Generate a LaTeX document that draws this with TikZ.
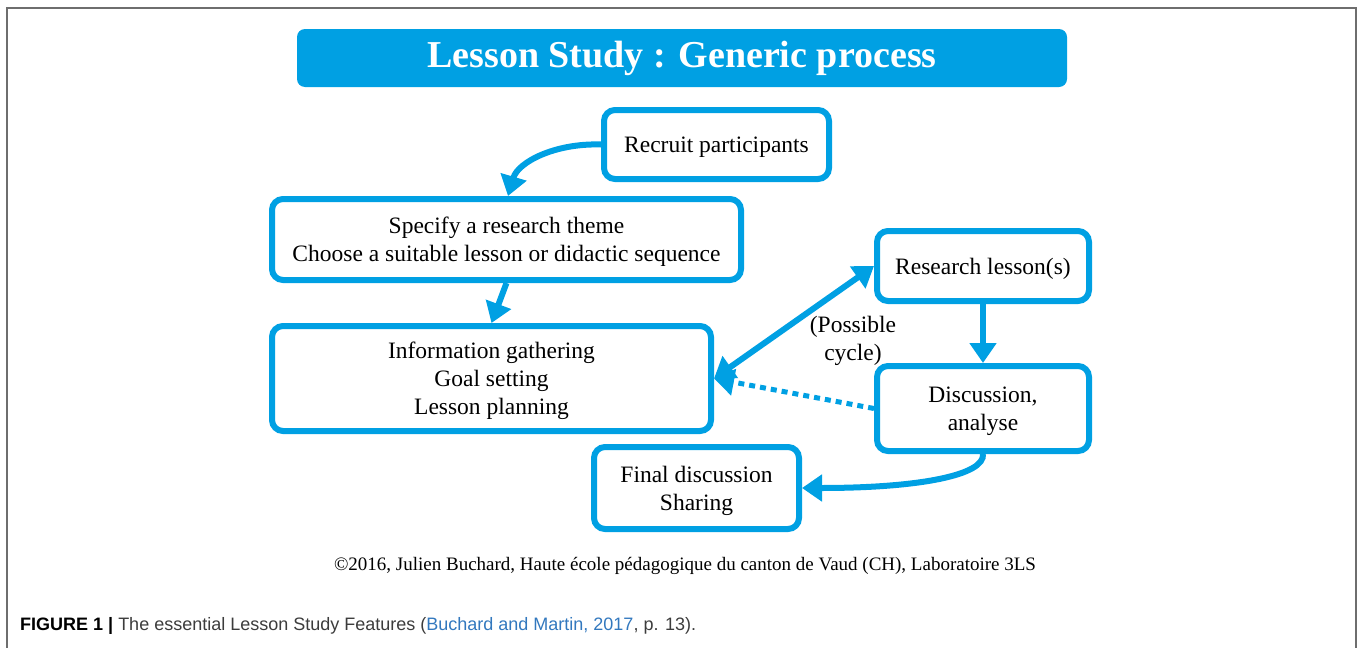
\documentclass[tikz,border=0pt]{standalone}
\usepackage{fontspec}
\setmainfont{Liberation Serif}
\newfontfamily\capfont{Liberation Sans}
\usetikzlibrary{arrows.meta,calc}
\definecolor{lsblue}{RGB}{0,160,227}
\definecolor{citeblue}{RGB}{50,120,190}
\definecolor{capgray}{RGB}{60,60,60}
\definecolor{framegray}{RGB}{110,110,110}
\begin{document}
\begin{tikzpicture}[x=1pt,y=-1pt,
  stepbox/.style={draw=lsblue,line width=6pt,rounded corners=11pt,fill=white,
    align=center,inner sep=0pt,text depth=0pt,font=\fontsize{23.5}{28}\selectfont},
  flow/.style={draw=lsblue,line width=6pt,-{Triangle[width=26pt,length=20pt]}},
  dotflow/.style={draw=lsblue,line width=5pt,dash pattern=on 6pt off 5pt,-{Triangle[width=26pt,length=20pt]}},
]
\useasboundingbox (0,0) rectangle (1358,648);
% frame
\draw[framegray,line width=1.5pt] (7,660) -- (7,8) -- (1356,8) -- (1356,660);
% title banner
\node[fill=lsblue,rounded corners=8pt,minimum width=770pt,minimum height=58pt,inner sep=0pt,
  text=white,font=\fontsize{38}{42}\selectfont\bfseries] (title) at (682,58) {Lesson Study : Generic process};
% boxes
\node[stepbox,minimum width=225pt,minimum height=69pt] (rec) at (716.5,144.5) {Recruit participants};
\node[stepbox,minimum width=469pt,minimum height=81pt] (spec) at (506.5,239.5) {Specify a research theme\\Choose a suitable lesson or didactic sequence};
\node[stepbox,minimum width=439pt,minimum height=105pt] (info) at (491.5,378.5) {Information gathering\\Goal setting\\Lesson planning};
\node[stepbox,minimum width=212pt,minimum height=70pt] (res) at (983,266) {Research lesson(s)};
\node[stepbox,minimum width=212pt,minimum height=85pt] (disc) at (983,408.5) {Discussion,\\analyse};
\node[stepbox,minimum width=205pt,minimum height=82pt] (fin) at (696.5,488) {Final discussion\\Sharing};
% label
\node[align=center,font=\fontsize{23.5}{28}\selectfont,inner sep=0pt] (cyc) at (853,341) {(Possible\\cycle)};
% connectors
\draw[flow] (rec.west) .. controls (555,143) and (518,162) .. (spec.north -| 508,0);
\draw[flow] (spec.south) -- (info.north);
\draw[dotflow] (disc.west) -- (info.east);
\draw[flow,{Triangle[width=26pt,length=20pt]}-{Triangle[width=26pt,length=20pt]}] (info.east) -- (res.west);
\draw[flow] (res.south) -- (disc.north);
\draw[flow] (disc.south) .. controls (985,475) and (920,488) .. (fin.east);
% copyright
\node[anchor=base,font=\fontsize{19}{22}\selectfont,inner sep=0pt] (copy) at (685,570) {\textcopyright2016, Julien Buchard, Haute école pédagogique du canton de Vaud (CH), Laboratoire 3LS};
% caption
\node[anchor=base west,inner sep=0pt,font=\capfont\fontsize{18}{20}\selectfont,text=capgray] (cap) at (20,630)
  {\textcolor{black}{\bfseries FIGURE 1 |} The essential Lesson Study Features (\textcolor{citeblue}{Buchard and Martin, 2017}, p. 13).};
\end{tikzpicture}
\end{document}
